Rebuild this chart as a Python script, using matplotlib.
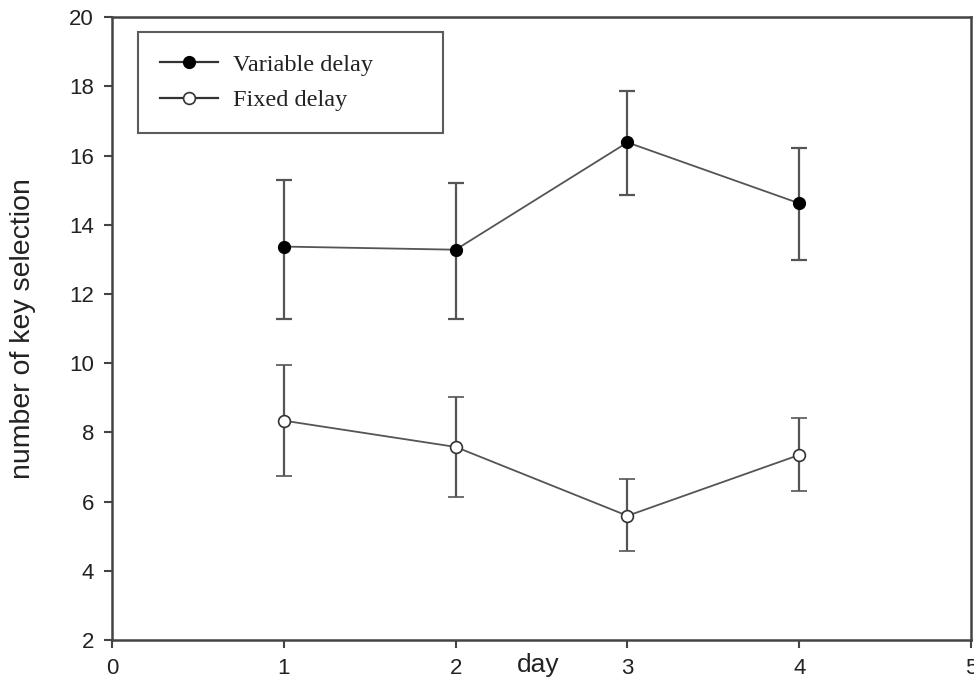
import numpy as np
import matplotlib
matplotlib.use('Agg')
import matplotlib.pyplot as plt
from matplotlib.lines import Line2D

days = [1, 2, 3, 4]

var_mean = [13.37, 13.28, 16.38, 14.62]
var_upper = [15.28, 15.22, 17.86, 16.21]
var_lower = [11.29, 11.29, 14.85, 12.97]

fix_mean = [8.34, 7.58, 5.59, 7.35]
fix_upper = [9.96, 9.03, 6.66, 8.42]
fix_lower = [6.75, 6.14, 4.58, 6.31]

xticks = [0, 1, 2, 3, 4, 5]
yticks = [2, 4, 6, 8, 10, 12, 14, 16, 18, 20]

line_col = '#555555'
axis_col = '#444444'
txt_col = '#222222'

fig = plt.figure(figsize=(9.74, 6.86), dpi=100)
ax = fig.add_axes([0.115, 0.067, 0.882, 0.908])

var_err = [np.array(var_mean) - np.array(var_lower), np.array(var_upper) - np.array(var_mean)]
fix_err = [np.array(fix_mean) - np.array(fix_lower), np.array(fix_upper) - np.array(fix_mean)]

ax.errorbar(days, var_mean, yerr=var_err, color=line_col, lw=1.3, elinewidth=1.6,
            capsize=6, capthick=1.6, marker='o', ms=8.5, mfc='black', mec='black', zorder=3)
ax.errorbar(days, fix_mean, yerr=fix_err, color=line_col, lw=1.3, elinewidth=1.6,
            capsize=6, capthick=1.6, marker='o', ms=8.5, mfc='white', mec='#333333',
            mew=1.2, zorder=3)

ax.set_xlim(0, 5)
ax.set_ylim(2, 20)
ax.set_xticks(xticks)
ax.set_yticks(yticks)

for s in ax.spines.values():
    s.set_color(axis_col)
    s.set_linewidth(1.8)

ax.tick_params(direction='out', length=6, width=1.5, color=axis_col,
               labelsize=16, labelcolor=txt_col, pad=7)
for lab in ax.get_xticklabels() + ax.get_yticklabels():
    lab.set_family('Liberation Sans')

ax.set_ylabel('number of key selection', fontsize=20.5, family='Liberation Sans',
              color=txt_col, labelpad=24)
fig.text(538 / 974, 1 - 665 / 686, 'day', fontsize=19, family='Liberation Sans',
         color=txt_col, ha='center', va='center')

handles = [
    Line2D([], [], color='#333333', lw=1.6, marker='o', ms=8.5, mfc='black', mec='black'),
    Line2D([], [], color='#333333', lw=1.6, marker='o', ms=8.5, mfc='white', mec='#333333', mew=1.2),
]
leg = ax.legend(handles, ['Variable delay', 'Fixed delay'], loc='upper left',
                bbox_to_anchor=(0.030, 0.817, 0.355, 0.159), mode='expand',
                frameon=True, fancybox=False, edgecolor='#333333', borderpad=0.9,
                handlelength=2.4, labelspacing=0.55, handletextpad=0.6,
                borderaxespad=0, prop={'family': 'Liberation Serif', 'size': 17.5})
leg.get_frame().set_linewidth(1.5)
for t in leg.get_texts():
    t.set_color(txt_col)

fig.savefig('out.png', dpi=100)
